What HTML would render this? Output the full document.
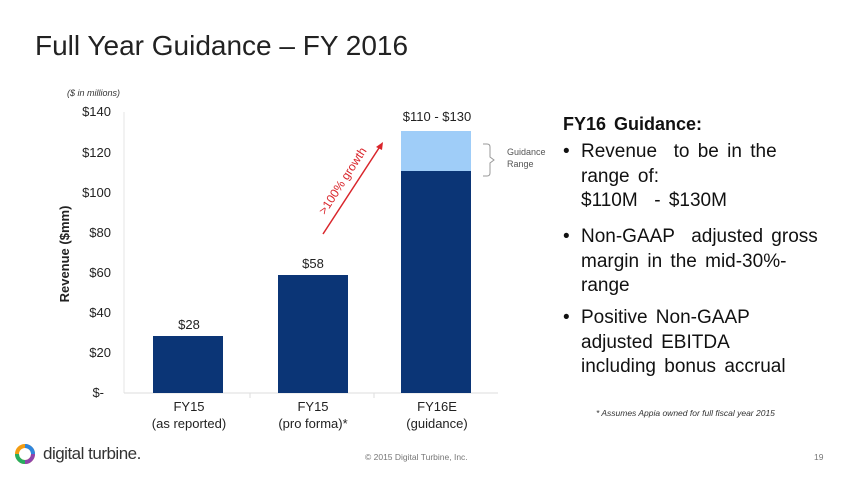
<!DOCTYPE html>
<html><head><style>
body{margin:0;width:850px;height:478px;background:#fff;font-family:"Liberation Sans",Arial,sans-serif;position:relative;overflow:hidden;color:#111}
.a{position:absolute;white-space:nowrap}
.r{font-size:19px;line-height:24.5px;color:#111;word-spacing:3px}
</style></head><body>
<div class="a" style="left:35px;top:30px;font-size:28px;color:#222">Full Year Guidance – FY 2016</div>
<div class="a" style="left:67px;top:88px;font-size:9px;font-style:italic;color:#333">($ in millions)</div>
<svg class="a" style="left:0;top:0" width="850" height="478">
<g font-family="Liberation Sans, Arial, sans-serif" font-size="13" fill="#222" text-anchor="end">
<text x="111" y="116">$140</text><text x="111" y="157">$120</text><text x="111" y="197">$100</text>
<text x="111" y="237">$80</text><text x="111" y="277">$60</text><text x="111" y="317">$40</text>
<text x="111" y="357">$20</text><text x="104" y="397">$-</text>
</g>
<line x1="124" y1="112" x2="124" y2="393" stroke="#e6e6e6"/>
<line x1="124" y1="393" x2="498" y2="393" stroke="#ddd"/>
<line x1="250" y1="393" x2="250" y2="398" stroke="#ddd"/><line x1="374" y1="393" x2="374" y2="398" stroke="#ddd"/>
<rect x="153" y="336" width="70" height="57" fill="#0b3576"/>
<rect x="278" y="275" width="70" height="118" fill="#0b3576"/>
<rect x="401" y="171" width="70" height="222" fill="#0b3576"/>
<rect x="401" y="131" width="70" height="40" fill="#9fcdf8"/>
<text x="69" y="254" transform="rotate(-90 69 254)" font-family="Liberation Sans, Arial, sans-serif" font-size="13" font-weight="bold" text-anchor="middle" fill="#222">Revenue ($mm)</text>
<g font-family="Liberation Sans, Arial, sans-serif" font-size="13" fill="#222" text-anchor="middle">
<text x="189" y="329">$28</text><text x="313" y="268">$58</text><text x="437" y="121">$110 - $130</text>
<text x="189" y="411">FY15</text><text x="189" y="428">(as reported)</text>
<text x="313" y="411">FY15</text><text x="313" y="428">(pro forma)*</text>
<text x="437" y="411">FY16E</text><text x="437" y="428">(guidance)</text>
</g>
<line x1="323" y1="234" x2="379" y2="148" stroke="#d9252b" stroke-width="1.5"/>
<polygon points="383,142 376,147 382,150" fill="#d9252b"/>
<text x="346" y="183" transform="rotate(-57 346 183)" font-family="Liberation Sans, Arial, sans-serif" font-size="12" fill="#d9252b" text-anchor="middle">&gt;100% growth</text>
<path d="M483,144 h4 q3,0 3,3 v10 l4,3 l-4,3 v10 q0,3 -3,3 h-4" fill="none" stroke="#999"/>
<text x="507" y="155" font-family="Liberation Sans, Arial, sans-serif" font-size="9" fill="#555">Guidance</text>
<text x="507" y="167" font-family="Liberation Sans, Arial, sans-serif" font-size="9" fill="#555">Range</text>
<circle cx="25" cy="454" r="8" fill="none" stroke="#f39c12" stroke-width="4"/>
<path d="M25,446 a8,8 0 0 1 8,8" fill="none" stroke="#2e86de" stroke-width="4"/>
<path d="M17,454 a8,8 0 0 0 8,8" fill="none" stroke="#27ae60" stroke-width="4"/>
<path d="M33,454 a8,8 0 0 1 -8,8" fill="none" stroke="#8e44ad" stroke-width="4"/>
</svg>
<div class="a" style="left:563px;top:114px;font-size:18px;font-weight:bold;word-spacing:3px">FY16 Guidance:</div>
<div class="a r" style="left:563px;top:140px">•</div>
<div class="a r" style="left:581px;top:140px">Revenue &nbsp;to be in the<br>range of:<br>$110M &nbsp;- $130M</div>
<div class="a r" style="left:563px;top:225px">•</div>
<div class="a r" style="left:581px;top:225px">Non-GAAP &nbsp;adjusted gross<br>margin in the mid-30%-<br>range</div>
<div class="a r" style="left:563px;top:306px">•</div>
<div class="a r" style="left:581px;top:306px">Positive Non-GAAP<br>adjusted EBITDA<br>including bonus accrual</div>
<div class="a" style="left:596px;top:408px;font-size:8.5px;font-style:italic;color:#333">* Assumes Appia owned for full fiscal year 2015</div>
<div class="a" style="left:43px;top:444px;font-size:17px;color:#333;letter-spacing:-0.5px">digital turbine.</div>
<div class="a" style="left:365px;top:452px;font-size:8.5px;color:#777">© 2015 Digital Turbine, Inc.</div>
<div class="a" style="left:814px;top:452px;font-size:8.5px;color:#777">19</div>
</body></html>
